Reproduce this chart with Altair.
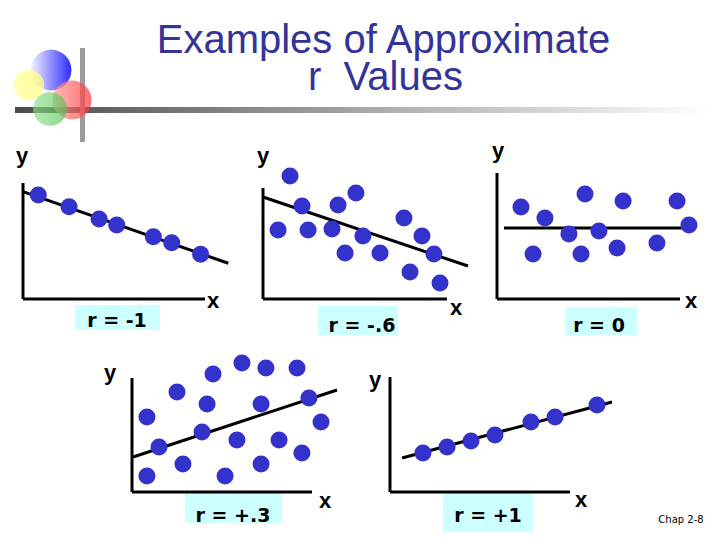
import math
import altair as alt
import pandas as pd

# ---------------- data (each panel in its own axis units, 0-10 along each axis) -------------
r_labels = ["r = -1", "r = -.6", "r = 0", "r = +.3", "r = +1"]

p1_x = [0.84, 2.53, 4.18, 5.15, 7.16, 8.17, 9.76]
p1_y = [8.97, 7.96, 6.90, 6.38, 5.37, 4.85, 3.85]
p1_line_x = [0.0, 11.28]
p1_line_y = [9.25, 3.08]

p2_x = [1.47, 2.12, 4.08, 5.05, 0.82, 2.45, 3.75, 5.43, 4.46, 6.36, 7.66, 8.64, 9.29, 7.99, 9.62]
p2_y = [11.08, 8.38, 8.47, 9.55, 6.22, 6.22, 6.31, 5.68, 4.14, 4.14, 7.30, 5.68, 4.05, 2.43, 1.44]
p2_line_x = [0.0, 11.14]
p2_line_y = [9.19, 2.97]

p3_x = [1.31, 2.62, 4.81, 6.89, 9.84, 10.49, 3.93, 5.57, 1.97, 4.59, 6.56, 8.74]
p3_y = [7.30, 6.43, 8.33, 7.78, 7.78, 5.87, 5.16, 5.40, 3.57, 3.57, 4.05, 4.44]
p3_line_x = [0.38, 10.22]
p3_line_y = [5.63, 5.63]

p4_x = [6.11, 7.44, 9.17, 4.50, 2.50, 4.17, 7.17, 9.83, 0.83, 10.5, 3.89, 1.50, 5.83, 8.17, 9.44, 2.83, 7.17, 0.83, 5.17]
p4_y = [11.32, 10.88, 10.88, 10.35, 8.77, 7.72, 7.72, 8.25, 6.58, 6.14, 5.26, 3.95, 4.56, 4.56, 3.42, 2.46, 2.46, 1.40, 1.40]
p4_line_x = [0.06, 11.39]
p4_line_y = [3.07, 8.95]

p5_x = [1.83, 3.17, 4.50, 5.83, 7.83, 9.17, 11.50]
p5_y = [3.39, 3.91, 4.43, 4.96, 6.09, 6.52, 7.57]
p5_line_x = [0.67, 12.33]
p5_line_y = [2.96, 7.83]

title_lines = ["Examples of Approximate", "r\u00a0\u00a0Values"]
footer_text = "Chap 2-8"

# ---------------- layout (slide pixels) ----------------
PAGE = (8, 712, 8, 532)   # drawing area on the slide: x0, x1, y0, y1

LAYOUT = {
    1: dict(origin=(23, 299), axis=(182, 116),
            box=(75, 160, 305, 330), label=(117, 327), xl=(213, 308), yl=(22, 163)),
    2: dict(origin=(263, 299), axis=(184, 111),
            box=(318, 398, 306, 335), label=(362, 332), xl=(456, 315), yl=(263, 163)),
    3: dict(origin=(497, 299), axis=(183, 126),
            box=(565, 637, 307, 335), label=(599, 332), xl=(691, 308), yl=(498, 158)),
    4: dict(origin=(132, 492), axis=(180, 114),
            box=(185, 282, 493, 523), label=(233, 522), xl=(325, 508), yl=(110, 380)),
    5: dict(origin=(390, 492), axis=(180, 115),
            box=(443, 533, 492, 532), label=(488, 522), xl=(581, 507), yl=(375, 387)),
}
FOOTER_POS = (681, 523)

DOT = "#3333CC"
BOX = "#CCFFFF"
TITLE_COLOR = "#333399"

PANELS = {
    1: (p1_x, p1_y, p1_line_x, p1_line_y, r_labels[0]),
    2: (p2_x, p2_y, p2_line_x, p2_line_y, r_labels[1]),
    3: (p3_x, p3_y, p3_line_x, p3_line_y, r_labels[2]),
    4: (p4_x, p4_y, p4_line_x, p4_line_y, r_labels[3]),
    5: (p5_x, p5_y, p5_line_x, p5_line_y, r_labels[4]),
}

cx0, cx1, cy0, cy1 = PAGE


def panel(k):
    L = LAYOUT[k]
    xs_, ys_, lx, ly, lab = PANELS[k]
    ox, oy = L["origin"]
    aw, ah = L["axis"]
    ux = lambda px: (px - ox) / aw * 10
    uy = lambda py: (oy - py) / ah * 10
    xsc = alt.Scale(domain=[ux(cx0), ux(cx1)], nice=False, zero=False)
    ysc = alt.Scale(domain=[uy(cy1), uy(cy0)], nice=False, zero=False)
    X = alt.X("x:Q", scale=xsc, axis=None)
    Y = alt.Y("y:Q", scale=ysc, axis=None)

    bx0, bx1, by0, by1 = L["box"]
    box = alt.Chart(pd.DataFrame({"x": [ux(bx0)], "x2": [ux(bx1)],
                                  "y": [uy(by0)], "y2": [uy(by1)]})).mark_rect(
        fill=BOX, strokeWidth=0).encode(x=X, x2="x2:Q", y=Y, y2="y2:Q")

    lab_df = pd.DataFrame({"x": [ux(L["label"][0])], "y": [uy(L["label"][1])], "t": [lab]})
    lab_t = alt.Chart(lab_df).mark_text(
        font="DejaVu Sans", fontSize=19, fontWeight="bold", color="black",
        align="center", baseline="alphabetic").encode(x=X, y=Y, text="t:N")

    axes = alt.Chart(pd.DataFrame({"x": [0, 0], "y": [0, 0],
                                   "x2": [10, 0], "y2": [0, 10]})).mark_rule(
        color="black", strokeWidth=3).encode(x=X, y=Y, x2="x2:Q", y2="y2:Q")

    ax_lab = alt.Chart(pd.DataFrame({
        "x": [ux(L["xl"][0]), ux(L["yl"][0])],
        "y": [uy(L["xl"][1]), uy(L["yl"][1])],
        "t": ["x", "y"]})).mark_text(
        font="Liberation Sans", fontSize=22, fontWeight="bold", color="black",
        align="center", baseline="alphabetic").encode(x=X, y=Y, text="t:N")

    line = alt.Chart(pd.DataFrame({"x": [lx[0]], "y": [ly[0]],
                                   "x2": [lx[1]], "y2": [ly[1]]})).mark_rule(
        color="black", strokeWidth=3).encode(x=X, y=Y, x2="x2:Q", y2="y2:Q")

    pts = alt.Chart(pd.DataFrame({"x": xs_, "y": ys_})).mark_circle(
        size=290, color=DOT, opacity=1).encode(x=X, y=Y)

    layers = [box, lab_t, axes, ax_lab, line, pts]
    if k == 5:
        ft = alt.Chart(pd.DataFrame({"x": [ux(FOOTER_POS[0])], "y": [uy(FOOTER_POS[1])],
                                     "t": [footer_text]})).mark_text(
            font="DejaVu Sans", fontSize=10, color="black",
            align="center", baseline="alphabetic").encode(x=X, y=Y, text="t:N")
        layers.append(ft)
    return layers


# ---------------- header (title + logo), in slide pixels ----------------
hx = alt.Scale(domain=[cx0, cx1], nice=False, zero=False)
hy = alt.Scale(domain=[cy0, cy1], reverse=True, nice=False, zero=False)
HX = alt.X("x:Q", scale=hx, axis=None)
HY = alt.Y("y:Q", scale=hy, axis=None)

bar = alt.Chart(pd.DataFrame({"x": [15], "x2": [712], "y": [107], "y2": [113]})).mark_rect(
    strokeWidth=0,
    fill=alt.Gradient(gradient="linear", x1=0, x2=1, y1=0, y2=0,
                      stops=[alt.GradientStop(color="#4a4a4a", offset=0),
                             alt.GradientStop(color="#b0b0b0", offset=0.55),
                             alt.GradientStop(color="#ffffff", offset=1)])
).encode(x=HX, x2="x2:Q", y=HY, y2="y2:Q")

vbar = alt.Chart(pd.DataFrame({"x": [80], "x2": [85], "y": [48], "y2": [142]})).mark_rect(
    strokeWidth=0, fill="#9c9c9c").encode(x=HX, x2="x2:Q", y=HY, y2="y2:Q")

LOGO = [  # (cx, cy, radius, colour-left, colour-right, opacity)
    (51, 70, 23, "#f0f0ff", "#0808ff", 0.85),
    (29, 85, 17, "#ffff9a", "#ffff80", 0.75),
    (72, 100, 22, "#ff9a9a", "#ff3030", 0.7),
    (50, 109, 19, "#8fe08f", "#50c050", 0.65),
]
circles = []
for cx, cy, r, c0, c1, op in LOGO:
    circles.append(alt.Chart(pd.DataFrame({"x": [cx], "y": [cy]})).mark_circle(
        size=math.pi * r * r, opacity=op,
        fill=alt.Gradient(gradient="linear", x1=0, x2=1, y1=0, y2=0,
                          stops=[alt.GradientStop(color=c0, offset=0),
                                 alt.GradientStop(color=c1, offset=1)])
    ).encode(x=HX, y=HY))

title = alt.Chart(pd.DataFrame({"x": [383.5, 385.5], "y": [53, 90], "t": title_lines})).mark_text(
    font="Liberation Sans", fontSize=40, color=TITLE_COLOR,
    align="center", baseline="alphabetic").encode(x=HX, y=HY, text="t:N")

all_layers = [bar, vbar, *circles, title]
for k in range(1, 6):
    all_layers += panel(k)

chart = alt.layer(*all_layers).resolve_scale(
    x="independent", y="independent"
).properties(
    width=cx1 - cx0, height=cy1 - cy0, padding=0, background="white",
    autosize=alt.AutoSizeParams(type="none")
).configure_view(strokeWidth=0)

chart.save("out.html", embed_options={"renderer": "svg", "actions": False})
